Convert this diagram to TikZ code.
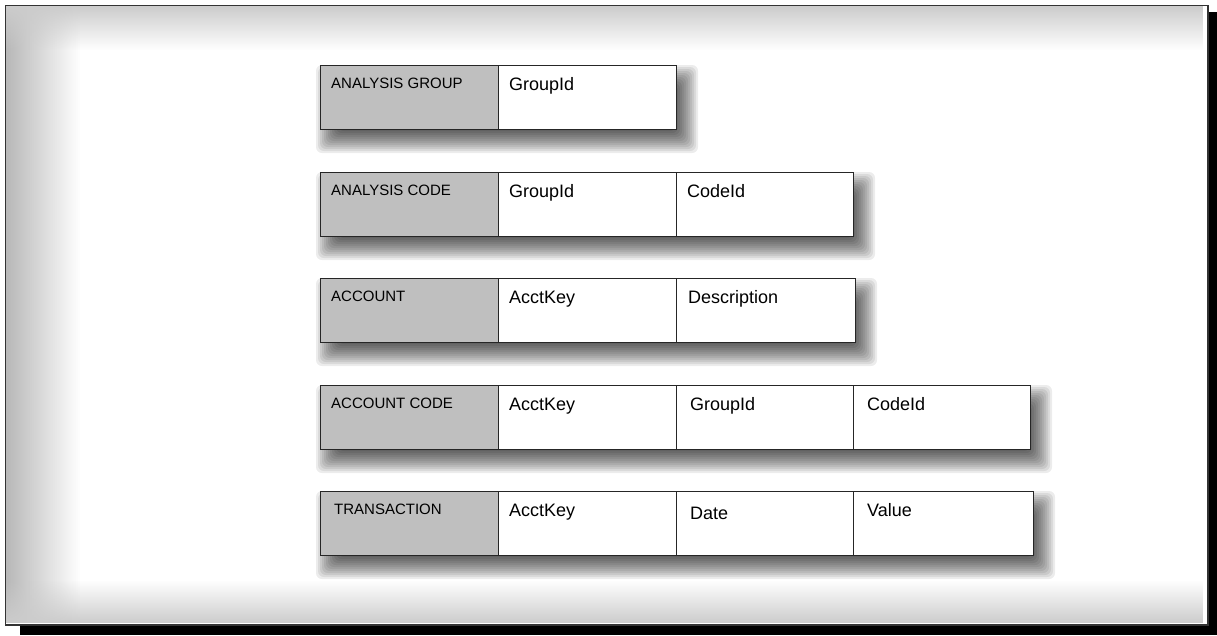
\documentclass[tikz,border=0pt]{standalone}
\usepackage{fontspec}
\setmainfont{Liberation Sans}
\usetikzlibrary{fadings}
\tikzset{
  namecell/.style={rectangle, anchor=north west, minimum width=178pt, minimum height=64pt, inner sep=0pt,
    draw=black!85, line width=0.8pt, fill=black!25},
  fieldcell/.style={rectangle, anchor=north west, minimum width=178pt, minimum height=64pt, inner sep=0pt,
    draw=black!85, line width=0.8pt, fill=white},
  lbl/.style={anchor=base west, inner sep=0pt, font=\fontsize{15}{18}\selectfont, text=black},
  fld/.style={anchor=base west, inner sep=0pt, font=\fontsize{18}{21}\selectfont, text=black},
  softshade/.style={fill=black, opacity=0.075},
}
% soft shadow behind a row: #1 left, #2 top, #3 right, #4 bottom
\newcommand\rowshadow[4]{%
  \foreach \k in {0,...,11}{%
    \pgfmathsetmacro\e{12-2*\k}%
    \fill[softshade, rounded corners=6pt] (#1+8-\e,#2+12-\e) rectangle (#3+10+\e,#4+12+\e);
  }%
}
\begin{document}
\begin{tikzpicture}[x=1pt,y=-1pt]
\useasboundingbox (0,0) rectangle (1217,635);
% frame and its shadow
\fill[black] (20,624) rectangle (1217,635);
\fill[black] (1207,12) rectangle (1217,635);
\node[rectangle, anchor=north west, minimum width=1202pt, minimum height=619pt, inner sep=0pt,
  fill=white, draw=black!80, line width=1pt] (frame) at (5,5) {};
% speckled edge tint
\fill[black!28, path fading=east] (6,6) rectangle (80,623);
\fill[black!20, path fading=south] (6,6) rectangle (1206,50);
\fill[black!20, path fading=north] (6,580) rectangle (1206,623);
\draw[black!80, line width=1pt] (frame.north west) rectangle (frame.south east);

% shadows
\rowshadow{320}{65}{676}{129}
\rowshadow{320}{172}{853}{236}
\rowshadow{320}{278}{855}{342}
\rowshadow{320}{385}{1030}{449}
\rowshadow{320}{491}{1033}{555}

% Row 1
\node[namecell] (ag) at (320,65) {};
\node[fieldcell] (ag1) at (498,65) {};
\node[lbl] (agt) at ([xshift=11pt,yshift=-23pt]ag.north west) {ANALYSIS GROUP};
\node[fld] (ag1t) at ([xshift=11pt,yshift=-25pt]ag1.north west) {GroupId};

% Row 2
\node[namecell] (ac) at (320,172) {};
\node[fieldcell] (ac1) at (498,172) {};
\node[fieldcell, minimum width=177pt] (ac2) at (676,172) {};
\node[lbl] (act) at ([xshift=11pt,yshift=-23pt]ac.north west) {ANALYSIS CODE};
\node[fld] (ac1t) at ([xshift=11pt,yshift=-25pt]ac1.north west) {GroupId};
\node[fld] (ac2t) at ([xshift=11pt,yshift=-25pt]ac2.north west) {CodeId};

% Row 3
\node[namecell] (acc) at (320,278) {};
\node[fieldcell] (acc1) at (498,278) {};
\node[fieldcell, minimum width=179pt] (acc2) at (676,278) {};
\node[lbl] (acct) at ([xshift=11pt,yshift=-23pt]acc.north west) {ACCOUNT};
\node[fld] (acc1t) at ([xshift=11pt,yshift=-25pt]acc1.north west) {AcctKey};
\node[fld] (acc2t) at ([xshift=12pt,yshift=-25pt]acc2.north west) {Description};

% Row 4
\node[namecell] (acd) at (320,385) {};
\node[fieldcell] (acd1) at (498,385) {};
\node[fieldcell, minimum width=177pt] (acd2) at (676,385) {};
\node[fieldcell, minimum width=177pt] (acd3) at (853,385) {};
\node[lbl] (acdt) at ([xshift=11pt,yshift=-23pt]acd.north west) {ACCOUNT CODE};
\node[fld] (acd1t) at ([xshift=11pt,yshift=-25pt]acd1.north west) {AcctKey};
\node[fld] (acd2t) at ([xshift=14pt,yshift=-25pt]acd2.north west) {GroupId};
\node[fld] (acd3t) at ([xshift=14pt,yshift=-25pt]acd3.north west) {CodeId};

% Row 5
\node[namecell] (tr) at (320,491) {};
\node[fieldcell] (tr1) at (498,491) {};
\node[fieldcell, minimum width=177pt] (tr2) at (676,491) {};
\node[fieldcell, minimum width=180pt] (tr3) at (853,491) {};
\node[lbl] (trt) at ([xshift=14pt,yshift=-23pt]tr.north west) {TRANSACTION};
\node[fld] (tr1t) at ([xshift=11pt,yshift=-25pt]tr1.north west) {AcctKey};
\node[fld] (tr2t) at ([xshift=14pt,yshift=-28pt]tr2.north west) {Date};
\node[fld] (tr3t) at ([xshift=14pt,yshift=-25pt]tr3.north west) {Value};
\end{tikzpicture}
\end{document}
